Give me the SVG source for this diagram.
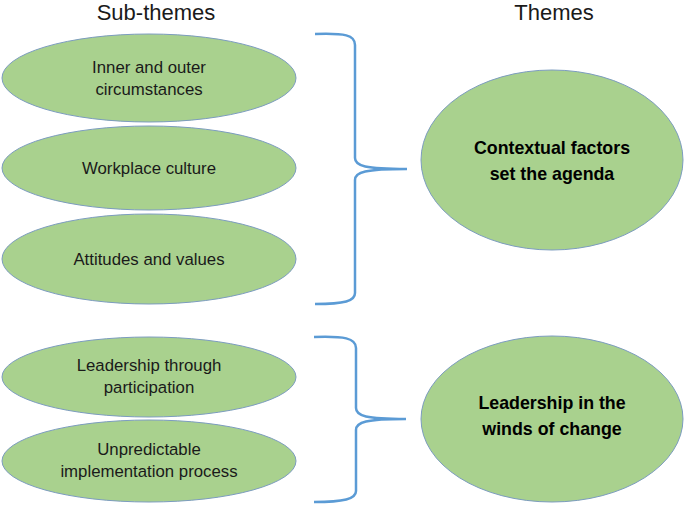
<svg xmlns="http://www.w3.org/2000/svg" width="685" height="505" viewBox="0 0 685 505">
<style>
.sub{fill:#A9D18E;stroke:#7C9CBF;stroke-width:1}
.t{font-family:"Liberation Sans",Arial,sans-serif;font-size:16.8px;fill:#1a1a1a;text-anchor:middle}
.b{font-family:"Liberation Sans",Arial,sans-serif;font-size:17.8px;font-weight:bold;fill:#000;text-anchor:middle}
.h{font-family:"Liberation Sans",Arial,sans-serif;font-size:22px;fill:#1a1a1a;text-anchor:middle}
.brace{fill:none;stroke:#5B9BD5;stroke-width:2.5}
</style>
<rect width="685" height="505" fill="#fff"/>
<text class="h" x="156" y="20">Sub-themes</text>
<text class="h" x="554" y="20">Themes</text>
<g id="connectors">
<path class="brace" d="M315,34 C345,33 355,35 355,45 L355,158 C355,166 365,169 407,169 C365,169 355,172 355,180 L355,293 C355,301 345,304 315,304"/>
<path class="brace" d="M314,337 C344,336 356,338 356,348 L356,408 C356,416 366,419 406,419 C366,419 356,422 356,430 L356,491 C356,499 344,502 314,502"/>
</g>
<g id="n1"><ellipse class="sub" cx="149" cy="78" rx="147" ry="44"/><text class="t" x="149" y="73">Inner and outer</text><text class="t" x="149" y="95">circumstances</text></g>
<g id="n2"><ellipse class="sub" cx="149" cy="168" rx="147" ry="42"/><text class="t" x="149" y="174">Workplace culture</text></g>
<g id="n3"><ellipse class="sub" cx="149" cy="259" rx="147" ry="45"/><text class="t" x="149" y="265">Attitudes and values</text></g>
<g id="n4"><ellipse class="sub" cx="149" cy="377" rx="147" ry="40"/><text class="t" x="149" y="371">Leadership through</text><text class="t" x="149" y="393">participation</text></g>
<g id="n5"><ellipse class="sub" cx="149" cy="461" rx="147" ry="41"/><text class="t" x="149" y="455">Unpredictable</text><text class="t" x="149" y="477">implementation process</text></g>
<g id="t1"><ellipse class="sub" cx="552" cy="160" rx="131" ry="90"/><text class="b" x="552" y="154">Contextual factors</text><text class="b" x="552" y="180">set the agenda</text></g>
<g id="t2"><ellipse class="sub" cx="552" cy="419" rx="131" ry="83"/><text class="b" x="552" y="409">Leadership in the</text><text class="b" x="552" y="435">winds of change</text></g>
</svg>
